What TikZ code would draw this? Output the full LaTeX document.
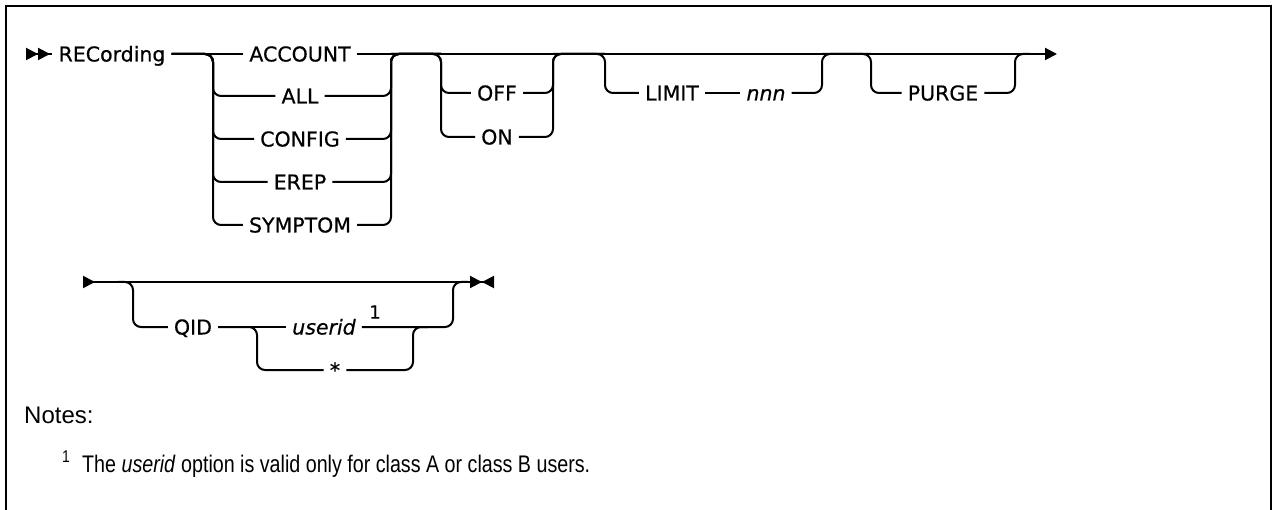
\documentclass[tikz,border=0pt]{standalone}
\usepackage{fontspec}
\usepackage{tikz}
\usetikzlibrary{arrows.meta,calc}
\newfontfamily\railfont[FakeBold=0.5]{DejaVu Sans}
\newfontfamily\notefont{Liberation Sans}
\newfontfamily\condfont[FakeStretch=0.82]{Liberation Sans}
\newcommand{\kwsize}{\fontsize{20.5}{24}\selectfont}

\begin{document}
\begin{tikzpicture}[
    x=1pt, y=-1pt,
    rail/.style={line width=2pt, rounded corners=8pt},
    kw/.style={font=\railfont\kwsize, inner xsep=6pt, inner ysep=0pt, text height=15pt, text depth=0pt},
    var/.style={kw, font=\railfont\itshape\kwsize},
    sup/.style={font=\railfont\fontsize{18}{21}\selectfont, inner sep=0pt},
    note/.style={font=\notefont\fontsize{24}{29}\selectfont, inner sep=0pt, anchor=base west},
    frame/.style={line width=2.5pt},
    railtip/.tip={Triangle[length=12pt, width=12pt]}
]
\useasboundingbox (0,0) rectangle (1273,510);
\draw[frame] (6,510) -- (6,6) -- (1271,6) -- (1271,510);
\coordinate (s1) at (26,54);
\coordinate (g1l) at (213,54);
\coordinate (g1r) at (391,54);
\coordinate (g2l) at (441,54);
\coordinate (g2r) at (553,54);
\coordinate (g3l) at (605,54);
\coordinate (g3r) at (822,54);
\coordinate (g4l) at (871,54);
\coordinate (g4r) at (1015,54);
\coordinate (e1) at (1057,54);
\node[kw] (rec) at (112,54) {RECording};
\node[kw] (account) at (300,54) {ACCOUNT};
\node[kw] (all) at (300,96) {ALL};
\node[kw] (config) at (300,139) {CONFIG};
\node[kw] (erep) at (300,182) {EREP};
\node[kw] (symptom) at (300,225) {SYMPTOM};
\node[kw] (off) at (497,93) {OFF};
\node[kw] (on) at (497,137) {ON};
\node[kw] (limit) at (672,93) {LIMIT};
\node[var] (nnn) at (766,93) {nnn};
\node[kw] (purge) at (943,93) {PURGE};
\draw[rail, {railtip[reversed]railtip[reversed]}-] (s1) -- (rec.west);
\draw[rail] (rec.east) -- (account.west);
\draw[rail, -{railtip}] (account.east) -- (e1);
\foreach \n in {all,config,erep,symptom} {
  \draw[rail] (rec.east) -- (g1l) |- (\n.west);
  \draw[rail] (\n.east) -| (g1r) -- (g2l);
}
\foreach \n in {off,on} {
  \draw[rail] (g1r) -- (g2l) |- (\n.west);
  \draw[rail] (\n.east) -| (g2r) -- (g3l);
}
\draw[rail] (g2r) -- (g3l) |- (limit.west);
\draw[rail] (limit.east) -- (nnn.west);
\draw[rail] (nnn.east) -| (g3r) -- (g4l);
\draw[rail] (g3r) -- (g4l) |- (purge.west);
\draw[rail] (purge.east) -| (g4r) -- ++(15,0);
\coordinate (s2) at (83,282);
\coordinate (q1l) at (133,282);
\coordinate (q1r) at (453,282);
\coordinate (e2) at (494,282);
\coordinate (q2l) at (257,327);
\coordinate (q2r) at (413,327);
\node[kw] (qid) at (193,327) {QID};
\node[var] (userid) at (324,327) {userid};
\node[sup] (mark) at (375,312) {1};
\node[kw] (star) at (335,370) {*};
\draw[rail, {railtip[reversed]}-{railtip[]railtip[reversed]}] (s2) -- (e2);
\draw[rail] ($(q1l)+(-15,0)$) -- (q1l) |- (qid.west);
\draw[rail] (qid.east) -- (userid.west);
\draw[rail] (userid.east) -| (q1r) -- ++(15,0);
\draw[rail] (qid.east) -- (q2l) |- (star.west);
\draw[rail] (star.east) -| (q2r) -- ++(15,0);
\node[note] (notes) at (24,423) {Notes:};
\node[note, font=\condfont\fontsize{17}{20}\selectfont] (fnmark) at (62,462) {1};
\node[note, font=\condfont\fontsize{24}{29}\selectfont] (fntext) at (82,472) {The \textit{userid} option is valid only for class A or class B users.};
\end{tikzpicture}
\end{document}
